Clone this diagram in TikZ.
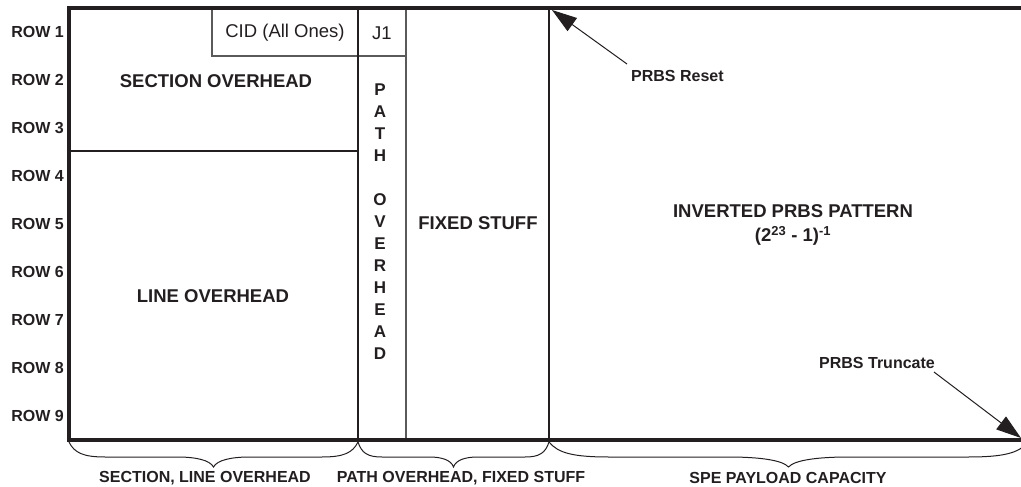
\documentclass[tikz,border=0pt]{standalone}
\usepackage{fontspec}
\setmainfont{Liberation Sans}
\usetikzlibrary{arrows.meta}
\definecolor{ink}{RGB}{35,31,32}
\definecolor{thin}{RGB}{90,90,90}
\newcommand\mybracepath[2]{%
  \pgfmathsetmacro\bm{(#1+#2)/2}%
  \pgfmathsetmacro\bc{0.125*(#2-#1)}%
  \draw[bracestyle] (#1,442) .. controls ({#1+0.15*\bc},453) and ({#1+0.4*\bc},457) .. ({#1+\bc},457)
    -- ({\bm-\bc},457) .. controls ({\bm-0.5*\bc},457) and ({\bm-0.1*\bc},460) .. (\bm,467)
    .. controls ({\bm+0.1*\bc},460) and ({\bm+0.5*\bc},457) .. ({\bm+\bc},457)
    -- ({#2-\bc},457) .. controls ({#2-0.4*\bc},457) and ({#2-0.15*\bc},453) .. (#2,442);%
}
\begin{document}
\begin{tikzpicture}[x=1pt,y=-1pt,
  frame/.style={draw=ink,line width=3.5pt},
  midline/.style={draw=ink,line width=2.5pt},
  thinline/.style={draw=thin,line width=1.2pt},
  rowlab/.style={anchor=east,inner sep=0pt,text=ink,font=\fontsize{16}{18}\selectfont\bfseries},
  biglab/.style={inner sep=0pt,text=ink,font=\fontsize{18.5}{22}\selectfont\bfseries},
  smalllab/.style={inner sep=0pt,text=ink,font=\fontsize{16}{18}\selectfont\bfseries},
  bottomlab/.style={inner sep=0pt,text=ink,font=\fontsize{16}{18}\selectfont\bfseries},
  reglab/.style={inner sep=0pt,text=ink,font=\fontsize{18.5}{22}\selectfont},
  bracestyle/.style={draw=ink,line width=1pt},
  ptr/.style={draw=ink,line width=1pt,-{Triangle[length=25pt,width=16pt]}}
]
\useasboundingbox (0,0) rectangle (1021,487);

% key coordinates
\coordinate (TL) at (69,8);
\coordinate (TR) at (1021,8);
\coordinate (BL) at (69,440);
\coordinate (BR) at (1021,440);
\coordinate (C1T) at (358,8);
\coordinate (C1B) at (358,440);
\coordinate (C2T) at (406,56);
\coordinate (C2B) at (406,440);
\coordinate (C3T) at (549,8);
\coordinate (C3B) at (549,440);

% interior lines
\draw[thinline] (C2T) -- (C2B);
\draw[thinline] (212,8) -- (212,56) -- (406,56);
\draw[thinline] (406,8) -- (C2T);
\draw[draw=ink,line width=2pt] (69,151) -- (358,151);
\draw[midline] (C1T) -- (C1B);
\draw[midline] (C3T) -- (C3B);

% frame
\draw[frame] (TR) -- (TL) -- (BL) -- (BR);

% row labels
\foreach \i in {1,...,9}{
  \node[rowlab] (row\i) at (64,{32+48*(\i-1)}) {ROW \i};
}

% cell texts
\node[reglab] (cid) at (285,33) {CID (All Ones)};
\node[reglab] (j1) at (382,33) {J1};
\node[biglab] (soh) at (216,81) {SECTION OVERHEAD};
\node[biglab] (loh) at (213,296) {LINE OVERHEAD};
\node[biglab] (fix) at (478,223) {FIXED STUFF};
\node[inner sep=0pt,text=ink,align=center,font=\fontsize{17}{22}\selectfont\bfseries] (poh) at (380,222)
  {P\\A\\T\\H\\~\\O\\V\\E\\R\\H\\E\\A\\D};
\node[biglab,align=center,font=\fontsize{18.5}{24}\selectfont\bfseries] (inv) at (793,225)
  {INVERTED PRBS PATTERN\\(2\textsuperscript{23} - 1)\textsuperscript{-1}};

% pointers
\node[smalllab,anchor=west] (reset) at (631,76) {PRBS Reset};
\node[smalllab] (trunc) at (877,363) {PRBS Truncate};
\coordinate (resetTail) at (627,64);
\coordinate (resetTip) at (552,10);
\coordinate (truncTail) at (934,372);
\coordinate (truncTip) at (1021,438);
\draw[ptr] (resetTail) -- (resetTip);
\draw[ptr] (truncTail) -- (truncTip);

% braces
\mybracepath{69}{358}
\mybracepath{358}{549}
\mybracepath{549}{1028}
\node[bottomlab] (lab1) at (205,478) {SECTION, LINE OVERHEAD};
\node[bottomlab] (lab2) at (461,478) {PATH OVERHEAD, FIXED STUFF};
\node[bottomlab] (lab3) at (788,478) {SPE PAYLOAD CAPACITY};
\end{tikzpicture}
\end{document}
